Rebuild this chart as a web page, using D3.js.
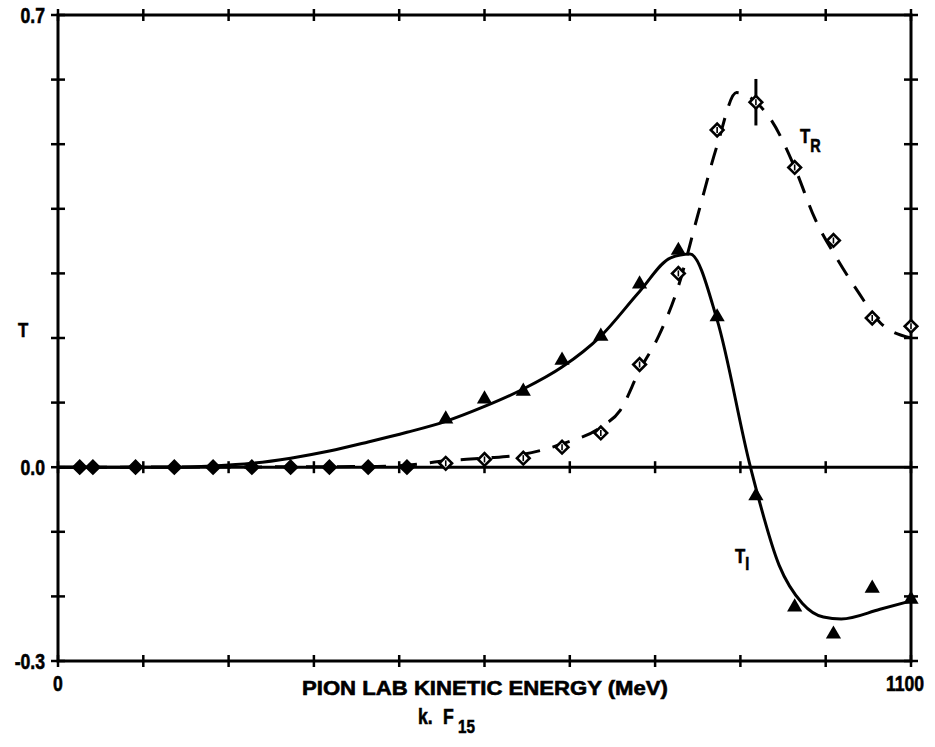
<!DOCTYPE html>
<html>
<head>
<meta charset="utf-8">
<script src="https://cdn.jsdelivr.net/npm/d3@7"></script>
<style>
  body { margin: 0; background: #fff; }
  text { font-family: "Liberation Sans", Arial, sans-serif; font-weight: bold; fill: #000; stroke: #000; stroke-width: 0.6px; }
</style>
</head>
<body>
<div class="chart"></div>
<script>
// measured points (pion lab kinetic energy, MeV)
const energy = [28, 45, 100, 150, 200, 250, 300, 350, 400, 450, 500, 550, 600, 650, 700, 750, 800, 850, 900, 950, 1000, 1050, 1100]
const tR = [0, 0, 0, 0, 0, 0, 0, 0, 0, 0, 0.006, 0.012, 0.014, 0.031, 0.053, 0.159, 0.300, 0.522, 0.565, 0.464, 0.351, 0.231, 0.218]
const tI = [0, 0, 0, 0, 0, 0, 0, 0, 0, 0, 0.073, 0.104, 0.116, 0.164, 0.201, 0.282, 0.334, 0.231, -0.046, -0.218, -0.260, -0.189, -0.206]
const tRErr = [0, 0, 0, 0, 0, 0, 0, 0, 0, 0, 0, 0, 0, 0, 0, 0, 0, 0, 0.036, 0, 0, 0, 0]

// fitted curves
const fitIE = [0, 150, 200, 250, 300, 350, 400, 450, 500, 550, 600, 650, 700, 750, 790, 815, 850, 893, 930, 960, 987, 1010, 1060, 1100]
const fitIV = [0, 0, 0.002, 0.006, 0.014, 0.025, 0.039, 0.054, 0.071, 0.094, 0.121, 0.155, 0.203, 0.272, 0.324, 0.330, 0.228, 0, -0.152, -0.211, -0.232, -0.235, -0.220, -0.207]
const fitRE = [0, 400, 450, 500, 550, 600, 650, 700, 725, 750, 775, 800, 825, 850, 875, 902, 920, 950, 976, 1006, 1032, 1060, 1100]
const fitRV = [0, 0.001, 0.003, 0.010, 0.014, 0.020, 0.036, 0.062, 0.088, 0.150, 0.204, 0.280, 0.390, 0.498, 0.580, 0.563, 0.537, 0.464, 0.385, 0.320, 0.271, 0.224, 0.200]

const xTicks = d3.range(0, 1101, 110)
const yTicks = d3.range(-0.3, 0.71, 0.1)

const width = 935, height = 747
const mLeft = 58, mRight = 911, mTop = 15, mBottom = 661

const svg = d3.select('.chart').append('svg')
    .attr('width', width)
    .attr('height', height)

const x = d3.scaleLinear().domain([0, 1100]).range([mLeft, mRight])
const y = d3.scaleLinear().domain([-0.3, 0.7]).range([mBottom, mTop])

// condensed bold text, like the labels of the figure
let label = function(px, py, str, size, anchor) {
    return svg.append('text')
        .attr('transform', `translate(${px},${py}) scale(0.8,1)`)
        .attr('text-anchor', anchor || 'start')
        .style('font-size', size + 'px')
        .text(str)
}

// frame
svg.append('rect')
    .attr('x', mLeft).attr('y', mTop)
    .attr('width', mRight - mLeft).attr('height', mBottom - mTop)
    .attr('fill', 'none').attr('stroke', '#000').attr('stroke-width', 3)

// zero line
svg.append('line')
    .attr('x1', mLeft).attr('x2', mRight)
    .attr('y1', y(0)).attr('y2', y(0))
    .attr('stroke', '#000').attr('stroke-width', 3)

// crossing ticks on every axis line
let tk = svg.append('g').attr('stroke', '#000').attr('stroke-width', 2.5)
xTicks.forEach(v => {
    [mTop, y(0), mBottom].forEach(yy => {
        tk.append('line').attr('x1', x(v)).attr('x2', x(v)).attr('y1', yy - 6).attr('y2', yy + 6)
    })
})
yTicks.forEach(v => {
    [mLeft, mRight].forEach(xx => {
        tk.append('line').attr('x1', xx - 7).attr('x2', xx + 7).attr('y1', y(v)).attr('y2', y(v))
    })
})

// tick labels
;[[0.7, '0.7'], [0, '0.0'], [-0.3, '-0.3']].forEach(d => {
    label(mLeft - 13, y(d[0]) + 8, d[1], 22, 'end')
})
label(x(0), 691, '0', 22, 'middle')
label(x(1100) - 6, 691, '1100', 22, 'middle')

// axis titles
svg.append('text').attr('x', 485).attr('y', 695).attr('text-anchor', 'middle')
    .style('font-size', '20px')
    .attr('textLength', 366).attr('lengthAdjust', 'spacingAndGlyphs')
    .text('PION LAB KINETIC ENERGY (MeV)')

label(418, 724, 'k.', 22)
label(443, 724, 'F', 22)
label(458, 733, '15', 19)

label(18, 337, 'T', 21)

// curve labels
let lr = label(800, 143, 'T', 21)
lr.append('tspan').attr('dy', 9).style('font-size', '18px').text('R')

let li = label(735, 563, 'T', 21)
li.append('tspan').attr('dy', 7).style('font-size', '18px').text('I')

// fitted lines
let line = d3.line()
    .x(d => x(d[0]))
    .y(d => y(d[1]))
    .curve(d3.curveMonotoneX)

svg.append('path')
    .datum(d3.zip(fitIE, fitIV))
    .attr('d', line)
    .attr('fill', 'none').attr('stroke', '#000').attr('stroke-width', 3)

svg.append('path')
    .datum(d3.zip(fitRE, fitRV))
    .attr('d', line)
    .attr('fill', 'none').attr('stroke', '#000').attr('stroke-width', 3)
    .attr('stroke-dasharray', '18,13')

// data points
const pts = energy.map((e, i) => ({ e: e, r: tR[i], im: tI[i], err: tRErr[i] }))

let marks = svg.append('g')

// error bars
marks.selectAll('.err')
    .data(pts.filter(d => d.err > 0))
    .enter().append('line')
    .attr('x1', d => x(d.e)).attr('x2', d => x(d.e))
    .attr('y1', d => y(d.r + d.err)).attr('y2', d => y(d.r - d.err))
    .attr('stroke', '#000').attr('stroke-width', 3)

// triangles (T_I)
marks.selectAll('.tri')
    .data(pts.filter(d => !(d.r === 0 && d.im === 0)))
    .enter().append('path')
    .attr('d', d3.symbol().type(d3.symbolTriangle).size(100))
    .attr('transform', d => `translate(${x(d.e)},${y(d.im) - 1})`)
    .attr('fill', '#000')

// diamonds (T_R); solid where both series sit on zero
let dia = marks.selectAll('.dia')
    .data(pts)
    .enter().append('g')
    .attr('transform', d => `translate(${x(d.e)},${y(d.r)})`)

dia.append('path')
    .attr('d', d3.symbol().type(d3.symbolSquare).size(80))
    .attr('transform', 'rotate(45)')
    .attr('fill', d => (d.r === 0 && d.im === 0) ? '#000' : '#fff')
    .attr('stroke', '#000').attr('stroke-width', 2.6)

dia.filter(d => !(d.r === 0 && d.im === 0))
    .append('line')
    .attr('x1', 0).attr('x2', 0).attr('y1', -3).attr('y2', 3)
    .attr('stroke', '#000').attr('stroke-width', 1.6)
</script>
</body>
</html>
